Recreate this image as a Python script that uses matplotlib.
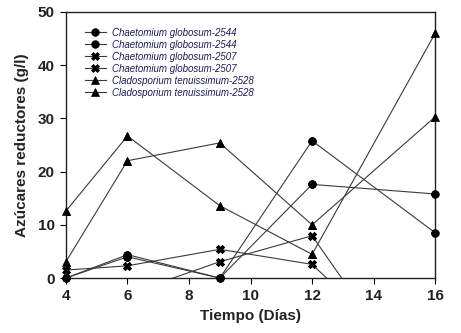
import matplotlib
matplotlib.use("Agg")
import matplotlib.pyplot as plt
import numpy as np

plt.rcParams['font.family'] = ['Liberation Sans', 'DejaVu Sans']

days = [4, 6, 9, 12, 16]

labels = [
    "Chaetomium globosum-2544",
    "Chaetomium globosum-2544",
    "Chaetomium globosum-2507",
    "Chaetomium globosum-2507",
    "Cladosporium tenuissimum-2528",
    "Cladosporium tenuissimum-2528",
]

cg2544_a = [0.0, 4.4, 0.0, 25.8, 8.5]
cg2544_b = [0.0, 4.0, 0.0, 17.6, 15.8]
cg2507_a = [1.5, 2.3, 5.4, 2.57, -19.3]
cg2507_b = [-2.0, -3.0, 3.07, 7.95, -25.2]
ct2528_a = [12.6, 26.7, 13.6, 4.45, 46.0]
ct2528_b = [3.07, 22.05, 25.4, 10.0, 30.3]

series = [cg2544_a, cg2544_b, cg2507_a, cg2507_b, ct2528_a, ct2528_b]
markers = ['o', 'o', 'X', 'X', '^', '^']

fig = plt.figure(figsize=(4.61, 3.33), dpi=100)
ax = fig.add_axes([0.143, 0.165, 0.801, 0.799])

for vals, m, lab in zip(series, markers, labels):
    ms = 5.5 if m != 'X' else 6
    ax.plot(days, vals, color='#3a3a3a', lw=0.8, marker=m, markersize=ms,
            markerfacecolor='black', markeredgecolor='black', markeredgewidth=0.5,
            label=lab)
    d = np.array(days); v = np.array(vals)
    keep = v >= 0
    ax.plot(d[keep], v[keep], ls='none', marker=m, markersize=ms,
            markerfacecolor='black', markeredgecolor='black', markeredgewidth=0.5,
            clip_on=False, zorder=5)

ax.set_xlim(4, 16)
ax.set_ylim(0, 50)
ax.set_xticks([4, 6, 8, 10, 12, 14, 16])
ax.set_yticks([0, 10, 20, 30, 40, 50])
ax.tick_params(direction='out', length=4, width=0.8, labelsize=11, pad=4)
for lbl in ax.get_xticklabels() + ax.get_yticklabels():
    lbl.set_fontweight('bold')
    lbl.set_color('#222222')
for s in ax.spines.values():
    s.set_linewidth(1.0)
    s.set_color('#222222')

ax.set_xlabel('Tiempo (Días)', fontsize=11, fontweight='bold', color='#222222', labelpad=4)
ax.set_ylabel('Azúcares reductores (g/l)', fontsize=11, fontweight='bold', color='#222222', labelpad=6)

leg = ax.legend(loc='upper left', bbox_to_anchor=(0.04, 0.955), frameon=False,
                prop={'style': 'italic', 'size': 7.0}, handlelength=2.2,
                handletextpad=0.6, labelspacing=0.2, borderaxespad=0)
for t in leg.get_texts():
    t.set_color('#1c1c5c')

fig.savefig('out.png', dpi=100)
